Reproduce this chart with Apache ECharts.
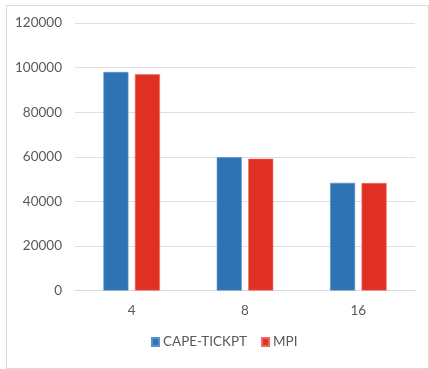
<!DOCTYPE html>
<html>
<head>
<meta charset="utf-8">
<script src="https://cdn.jsdelivr.net/npm/echarts@6/dist/echarts.min.js"></script>
<style>
  html, body { margin: 0; padding: 0; background: #fff; }
  #chart { width: 429px; height: 369px; }
</style>
</head>
<body>
<div id="chart"></div>
<script>
// Process counts on the x axis
const categories = ['4', '8', '16'];
// Series values
const capeTickpt = [98000, 59800, 48300];
const mpi = [97000, 59100, 48200];
// Value axis ticks
const yTicks = [0, 20000, 40000, 60000, 80000, 100000, 120000];

const labelFont = 'Lato, "Open Sans", sans-serif';
const chart = echarts.init(document.getElementById('chart'));

chart.setOption({
  animation: false,
  backgroundColor: '#ffffff',
  graphic: [{
    type: 'rect',
    left: 4, top: 3,
    shape: { x: 0.5, y: 0.5, width: 422, height: 363 },
    style: { fill: 'none', stroke: '#d9d9d9', lineWidth: 1 },
    silent: true
  }],
  grid: { left: 75, right: 14, top: 23, bottom: 78.5 },
  legend: {
    bottom: 15,
    left: 146,
    itemWidth: 7,
    itemHeight: 8,
    itemGap: 14,
    icon: 'rect',
    textStyle: { color: '#595959', fontSize: 13.5, fontFamily: labelFont, padding: [0, 0, 0, -1] },
    data: ['CAPE-TICKPT', 'MPI']
  },
  xAxis: {
    type: 'category',
    data: categories,
    axisLine: { lineStyle: { color: '#d9d9d9', width: 1 } },
    axisTick: { show: false },
    axisLabel: { color: '#595959', fontSize: 13.5, fontFamily: labelFont, margin: 13 }
  },
  yAxis: {
    type: 'value',
    min: yTicks[0],
    max: yTicks[yTicks.length - 1],
    interval: yTicks[1] - yTicks[0],
    splitLine: { lineStyle: { color: '#e0e0e0', width: 1 } },
    axisLine: { show: false },
    axisTick: { show: false },
    axisLabel: {
      color: '#595959', fontSize: 13.5, fontFamily: labelFont, margin: 13,
      formatter: v => String(v)
    }
  },
  series: [
    {
      name: 'CAPE-TICKPT',
      type: 'bar',
      data: capeTickpt,
      barWidth: 25,
      barGap: '26%',
      itemStyle: { color: '#2e74b5', borderColor: '#5b93c9', borderWidth: 0.6 }
    },
    {
      name: 'MPI',
      type: 'bar',
      data: mpi,
      barWidth: 25,
      itemStyle: { color: '#e03024', borderColor: '#ee6a60', borderWidth: 0.6 }
    }
  ]
});
</script>
</body>
</html>
